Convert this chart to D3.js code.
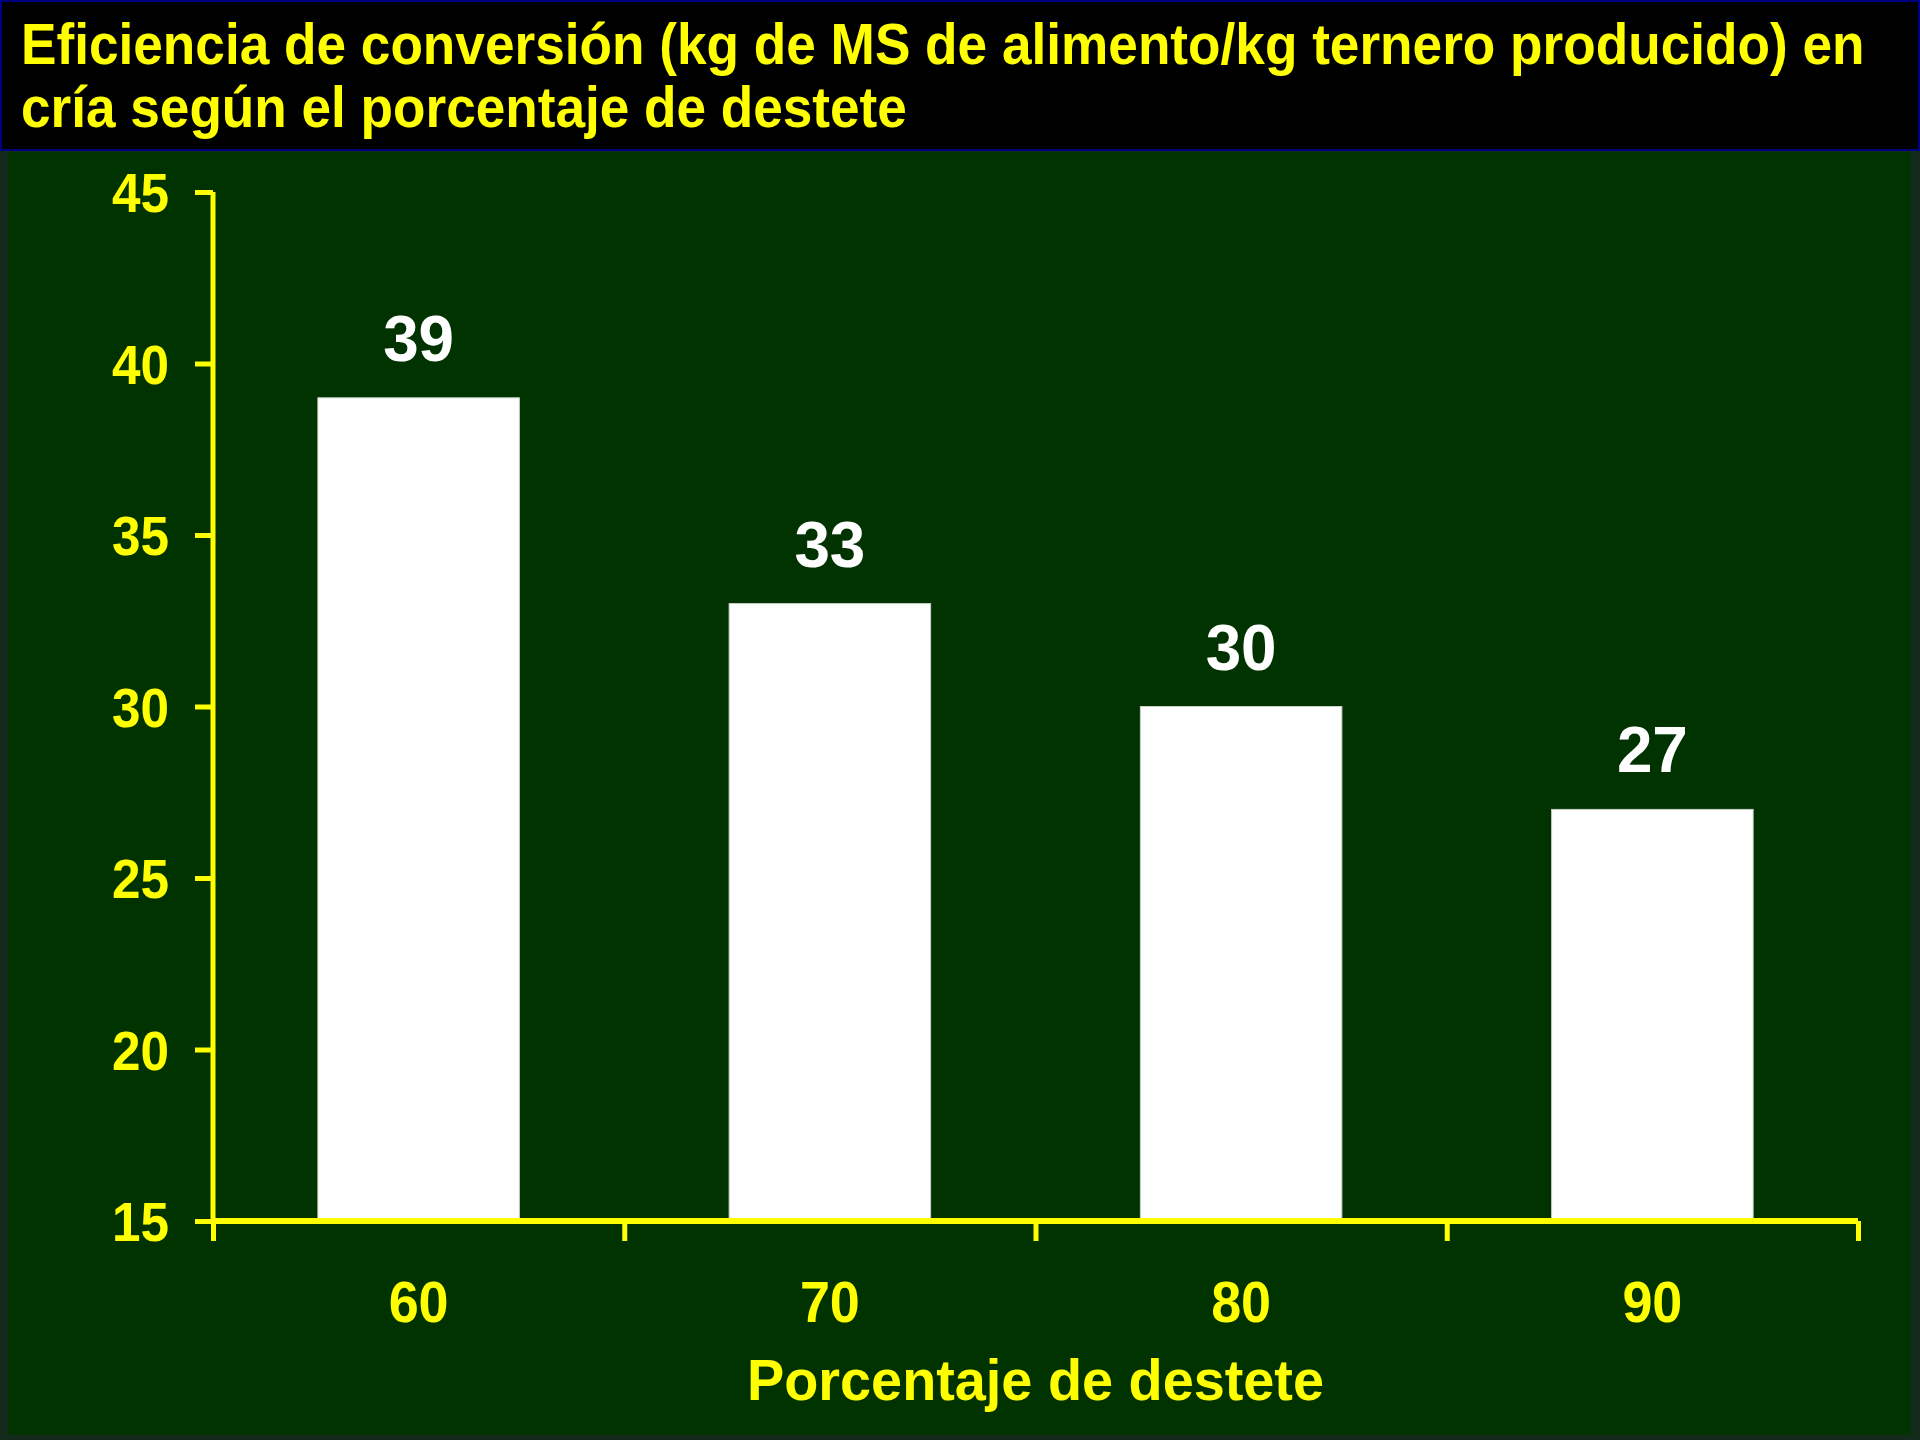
<!DOCTYPE html>
<html>
<head>
<meta charset="utf-8">
<script src="https://cdn.jsdelivr.net/npm/d3@7"></script>
<style>
  body { margin: 0; background: #132a1c; }
  svg { display: block; font-family: "Liberation Sans", Arial, sans-serif; font-weight: bold; }
</style>
</head>
<body>
<svg width="1920" height="1440"></svg>
<script>
// Chart data
var categories = ["60", "70", "80", "90"];
var values = [39, 33, 30, 27];
var yTicks = [15, 20, 25, 30, 35, 40, 45];
var titleLines = [
    "Eficiencia de conversión (kg de MS de alimento/kg ternero producido) en",
    "cría según el porcentaje de destete"
];
var titleWidths = [1844, 886];
var xTitle = "Porcentaje de destete";

var svg = d3.select("svg"),
    margin = {top: 192, right: 62, bottom: 219, left: 213},
    width = +svg.attr("width") - margin.left - margin.right,
    height = +svg.attr("height") - margin.top - margin.bottom;

// Backgrounds
svg.append("rect")
    .attr("x", 8).attr("y", 152)
    .attr("width", 1903).attr("height", 1283)
    .attr("fill", "#003300");

svg.append("rect")
    .attr("x", 1).attr("y", 1)
    .attr("width", 1918).attr("height", 149)
    .attr("fill", "#000")
    .attr("stroke", "#000080")
    .attr("stroke-width", 2);

// Title - original font is condensed, so squeeze each line horizontally
svg.selectAll(".title")
    .data(titleLines)
    .enter().append("text")
    .attr("class", "title")
    .attr("fill", "#ffff00")
    .attr("font-size", 57)
    .text((d) => d)
    .attr("transform", function(d, i) {
        var sx = titleWidths[i] / this.getComputedTextLength();
        return "translate(21," + (64 + i * 63) + ") scale(" + sx + ",1)";
    });

var g = svg.append("g")
    .attr("transform", "translate(" + margin.left + "," + margin.top + ")");

// Scales
var x = d3.scaleBand().domain(categories).range([0, width]).paddingInner(0.51).paddingOuter(0.255),
    xEdge = d3.scalePoint().domain(d3.range(categories.length + 1)).range([0, width]),
    y = d3.scaleLinear().domain([15, 45]).range([height, 0]);

// Bars
g.selectAll(".bar")
    .data(values)
    .enter().append("rect")
    .attr("class", "bar")
    .attr("x", (d, i) => x(categories[i]))
    .attr("y", (d) => y(d))
    .attr("width", x.bandwidth())
    .attr("height", (d) => height - y(d))
    .attr("fill", "#fff")
    .attr("stroke", "#c8d0c8")
    .attr("stroke-width", 1);

// Value labels
g.selectAll(".value")
    .data(values)
    .enter().append("text")
    .attr("class", "value")
    .attr("x", (d, i) => x(categories[i]) + x.bandwidth() / 2)
    .attr("y", (d) => y(d) - 37)
    .attr("text-anchor", "middle")
    .attr("fill", "#fff")
    .attr("font-size", 65)
    .attr("textLength", 71)
    .attr("lengthAdjust", "spacingAndGlyphs")
    .text((d) => d);

// Y axis
var yAxis = g.append("g")
    .call(d3.axisLeft(y).tickValues(yTicks).tickSize(18).tickPadding(26));
yAxis.select(".domain").attr("stroke", "#ffff00").attr("stroke-width", 5)
    .attr("d", "M0," + y(45) + "V" + height);
yAxis.selectAll(".tick line").attr("stroke", "#ffff00").attr("stroke-width", 5);
yAxis.selectAll(".tick text")
    .attr("fill", "#ffff00")
    .attr("font-size", 55)
    .attr("font-family", "Liberation Sans, Arial, sans-serif")
    .attr("font-weight", "bold")
    .attr("textLength", 57)
    .attr("lengthAdjust", "spacingAndGlyphs")
    .attr("dy", "0.36em");

// X axis (ticks between categories)
var xAxis = g.append("g")
    .attr("transform", "translate(0," + height + ")")
    .call(d3.axisBottom(xEdge).tickSize(20).tickFormat(""));
xAxis.select(".domain").attr("stroke", "#ffff00").attr("stroke-width", 6)
    .attr("d", "M0,0H" + width);
xAxis.selectAll(".tick line").attr("stroke", "#ffff00").attr("stroke-width", 5);

g.selectAll(".xlabel")
    .data(categories)
    .enter().append("text")
    .attr("class", "xlabel")
    .attr("x", (d) => x(d) + x.bandwidth() / 2)
    .attr("y", height + 101)
    .attr("text-anchor", "middle")
    .attr("fill", "#ffff00")
    .attr("font-size", 58)
    .attr("textLength", 60)
    .attr("lengthAdjust", "spacingAndGlyphs")
    .text((d) => d);

// X axis title
g.append("text")
    .attr("x", width / 2)
    .attr("y", height + 179)
    .attr("text-anchor", "middle")
    .attr("fill", "#ffff00")
    .attr("font-size", 57)
    .attr("textLength", 577)
    .attr("lengthAdjust", "spacingAndGlyphs")
    .text(xTitle);
</script>
</body>
</html>
